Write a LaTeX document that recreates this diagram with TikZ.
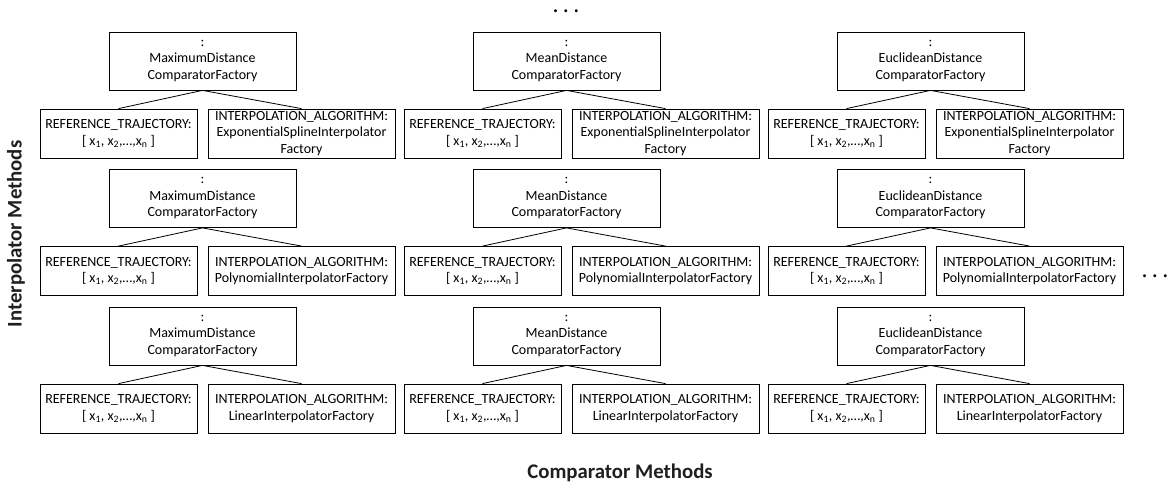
\documentclass[tikz,border=0pt]{standalone}
\usepackage{fontspec}
\setmainfont{Carlito}
\begin{document}
\begin{tikzpicture}[x=1pt,y=-1pt,
  box/.style={draw=black, line width=0.8pt, align=center, inner sep=0pt,
    font=\fontsize{14}{16.5}\selectfont},
  compbox/.style={box, minimum width=187pt, minimum height=58pt},
  refbox/.style={box, minimum width=157pt, minimum height=49pt},
  algbox/.style={box, minimum width=187pt, minimum height=49pt},
  link/.style={draw=black, line width=0.8pt},
  axislabel/.style={font=\fontsize{20.8}{24}\selectfont\bfseries, text=black!88},
  more/.style={font=\fontsize{24}{24}\selectfont, inner sep=0pt, anchor=base}]
\useasboundingbox (0,0) rectangle (1171,489);

% one column per comparator, one row per interpolator
\foreach \dx/\dist [count=\i] in {0/Maximum, 364/Mean, 728/Euclidean}{
  \foreach \dy/\alg [count=\j] in {0/{ExponentialSplineInterpolator\\Factory},
                                   137.5/PolynomialInterpolatorFactory,
                                   275/LinearInterpolatorFactory}{
    \node[compbox] (t\i\j) at (202.5+\dx, 61+\dy)
      {:\\\dist Distance\\ComparatorFactory};
    \node[refbox] (l\i\j) at (118.5+\dx, 133.5+\dy)
      {REFERENCE\_TRAJECTORY:\\{}[ x\textsubscript{1}, x\textsubscript{2},…,x\textsubscript{n} ]};
    \node[algbox] (r\i\j) at (301.5+\dx, 133.5+\dy)
      {INTERPOLATION\_ALGORITHM:\\\alg};
    \draw[link] (t\i\j.south) -- (l\i\j.north);
    \draw[link] (t\i\j.south) -- (r\i\j.north);
  }
}

% continuation marks
\node[more] (moreup) at (566, 13) {.\hspace{4.3pt}.\hspace{4.3pt}.};
\node[more] (moreright) at (1155, 278) {.\hspace{4.3pt}.\hspace{4.3pt}.};

% axis titles
\node[axislabel, rotate=90] (ylabel) at (16, 234) {Interpolator Methods};
\node[axislabel] (xlabel) at (620, 473) {Comparator Methods};
\end{tikzpicture}
\end{document}
